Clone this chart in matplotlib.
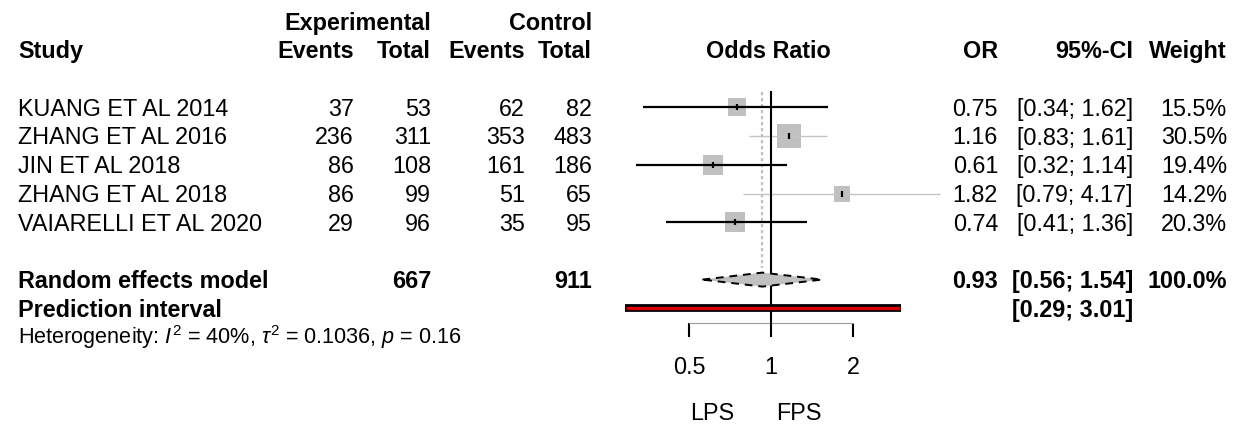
import matplotlib
matplotlib.use("Agg")
import matplotlib.pyplot as plt
import numpy as np
from matplotlib.patches import Polygon

plt.rcParams['font.family'] = ['Liberation Sans', 'DejaVu Sans']
plt.rcParams['mathtext.fontset'] = 'custom'
plt.rcParams['mathtext.rm'] = 'Liberation Sans'
plt.rcParams['mathtext.it'] = 'Liberation Sans:italic'
plt.rcParams['mathtext.bf'] = 'Liberation Sans:bold'

# ---------------- data ----------------
studies = ["KUANG ET AL 2014", "ZHANG ET AL 2016", "JIN ET AL 2018",
           "ZHANG ET AL 2018", "VAIARELLI ET AL 2020"]
exp_events = [37, 236, 86, 86, 29]
exp_total = [53, 311, 108, 99, 96]
ctrl_events = [62, 353, 161, 51, 35]
ctrl_total = [82, 483, 186, 65, 95]
odds_ratio = [0.75, 1.16, 0.61, 1.82, 0.74]
ci_low = [0.34, 0.83, 0.32, 0.79, 0.41]
ci_high = [1.62, 1.61, 1.14, 4.17, 1.36]
weights = [15.5, 30.5, 19.4, 14.2, 20.3]
re_total_exp = 667
re_total_ctrl = 911
re_or = 0.93
re_low, re_high = 0.56, 1.54
pi_low, pi_high = 0.29, 3.01
het_text = r"Heterogeneity: $I^2$ = 40%, $\tau^2$ = 0.1036, $p$ = 0.16"
x_ticks = [0.5, 1, 2]
x_tick_labels = ["0.5", "1", "2"]
label_left, label_right = "LPS", "FPS"

# ---------------- layout ----------------
W, H, DPI = 1233, 430, 100
fig = plt.figure(figsize=(W / DPI, H / DPI), dpi=DPI)
fig.patch.set_facecolor("white")

ax_t = fig.add_axes([0, 0, 1, 1])
ax_t.set_xlim(0, W)
ax_t.set_ylim(H, 0)
ax_t.axis("off")

# forest axes: log scale; 1 -> 771px, 82px per doubling
x_ref_px, px_per_doubling = 771.0, 82.0
xl0, xl1 = 0.25, 4.6
p0 = x_ref_px + px_per_doubling * np.log2(xl0)
p1 = x_ref_px + px_per_doubling * np.log2(xl1)
ax = fig.add_axes([p0 / W, 0, (p1 - p0) / W, 1])
ax.set_xscale("log")
ax.set_xlim(xl0, xl1)
ax.set_ylim(H, 0)
ax.patch.set_alpha(0)


def row_y(k):
    return 50 + 28.7 * k


FS = 16.8


def txt(x, yc, s, ha="left", bold=False, size=FS, **kw):
    px = size * DPI / 72.0
    ax_t.text(x, yc + 0.36 * px, s, ha=ha, va="baseline", fontsize=size,
              fontweight="bold" if bold else "normal", color="black", **kw)


# column right edges
c_name = 18
c_ee, c_et, c_ce, c_ct = 354, 431, 525, 592
c_or, c_ci, c_w = 998, 1133, 1227

# headers
txt(c_et, row_y(-1), "Experimental", ha="right", bold=True)
txt(c_ct, row_y(-1), "Control", ha="right", bold=True)
y_h = row_y(0)
txt(c_name, y_h, "Study", bold=True)
txt(c_ee, y_h, "Events", ha="right", bold=True)
txt(c_et, y_h, "Total", ha="right", bold=True)
txt(c_ce, y_h, "Events", ha="right", bold=True)
txt(c_ct, y_h, "Total", ha="right", bold=True)
txt(768, y_h, "Odds Ratio", ha="center", bold=True)
txt(c_or, y_h, "OR", ha="right", bold=True)
txt(c_ci, y_h, "95%-CI", ha="right", bold=True)
txt(c_w, y_h, "Weight", ha="right", bold=True)

# study rows
line_colors = ["black", "#c4c4c4", "black", "#c4c4c4", "black"]
line_widths = [1.6, 1.0, 1.6, 1.0, 1.6]
for i in range(len(studies)):
    y = row_y(2 + i)
    txt(c_name, y, studies[i])
    txt(c_ee, y, str(exp_events[i]), ha="right")
    txt(c_et, y, str(exp_total[i]), ha="right")
    txt(c_ce, y, str(ctrl_events[i]), ha="right")
    txt(c_ct, y, str(ctrl_total[i]), ha="right")
    txt(c_or, y, f"{odds_ratio[i]:.2f}", ha="right")
    txt(c_ci, y, f"[{ci_low[i]:.2f}; {ci_high[i]:.2f}]", ha="right")
    txt(c_w, y, f"{weights[i]:.1f}%", ha="right")
    side_px = 4.5 * np.sqrt(weights[i])
    ax.plot([odds_ratio[i]], [y], marker="s", markersize=side_px * 72 / DPI,
            color="#c0c0c0", markeredgewidth=0, zorder=2, clip_on=False)
    ax.plot([ci_low[i], ci_high[i]], [y, y], color=line_colors[i],
            lw=line_widths[i], zorder=3, solid_capstyle="butt", clip_on=False)
    ax.plot([odds_ratio[i]], [y], marker="|", markersize=4.5, color="black",
            markeredgewidth=1.6, zorder=4, clip_on=False)

# random effects row
y_re = row_y(8)
txt(c_name, y_re, "Random effects model", bold=True)
txt(c_et, y_re, str(re_total_exp), ha="right", bold=True)
txt(c_ct, y_re, str(re_total_ctrl), ha="right", bold=True)
txt(c_or, y_re, f"{re_or:.2f}", ha="right", bold=True)
txt(c_ci, y_re, f"[{re_low:.2f}; {re_high:.2f}]", ha="right", bold=True)
txt(c_w, y_re, "100.0%", ha="right", bold=True)
dh = 7
diamond = Polygon([(re_low, y_re), (re_or, y_re - dh), (re_high, y_re),
                   (re_or, y_re + dh)], closed=True, facecolor="#c0c0c0",
                  edgecolor="black", lw=1.4, linestyle=(0, (4, 3)), zorder=5)
ax.add_patch(diamond)

# prediction interval row
y_pi = row_y(9)
txt(c_name, y_pi, "Prediction interval", bold=True)
txt(c_ci, y_pi, f"[{pi_low:.2f}; {pi_high:.2f}]", ha="right", bold=True)
ax.plot([pi_low, pi_high], [y_pi, y_pi], color="black", lw=5.6,
        solid_capstyle="butt", zorder=5)
ax.plot([pi_low * 1.01, pi_high / 1.01], [y_pi, y_pi], color="#dd0000", lw=2.4,
        solid_capstyle="butt", zorder=6)

# heterogeneity
txt(c_name, row_y(10) - 1, het_text, size=15.6)

# reference lines
y_top = 92
y_axis = 323
ax.plot([1, 1], [y_top, y_axis], color="black", lw=1.5, zorder=4)
ax.plot([re_or, re_or], [y_top, 268], color="#c0c0c0", lw=1.6,
        linestyle=(0, (1.5, 1.2)), zorder=1)

# x axis
for s in ["top", "left", "right"]:
    ax.spines[s].set_visible(False)
ax.spines["bottom"].set_position(("data", y_axis))
ax.spines["bottom"].set_bounds(x_ticks[0], x_ticks[-1])
ax.spines["bottom"].set_color("#9a9a9a")
ax.spines["bottom"].set_linewidth(0.8)
ax.yaxis.set_visible(False)
ax.set_xticks(x_ticks)
ax.set_xticklabels(x_tick_labels)
ax.xaxis.set_minor_locator(matplotlib.ticker.NullLocator())
ax.tick_params(axis="x", direction="out", length=10, width=1.5, color="black",
               labelsize=FS, pad=14)

txt(712, 412, label_left, ha="center")
txt(799, 412, label_right, ha="center")

fig.savefig("out.png", dpi=DPI, facecolor="white")
